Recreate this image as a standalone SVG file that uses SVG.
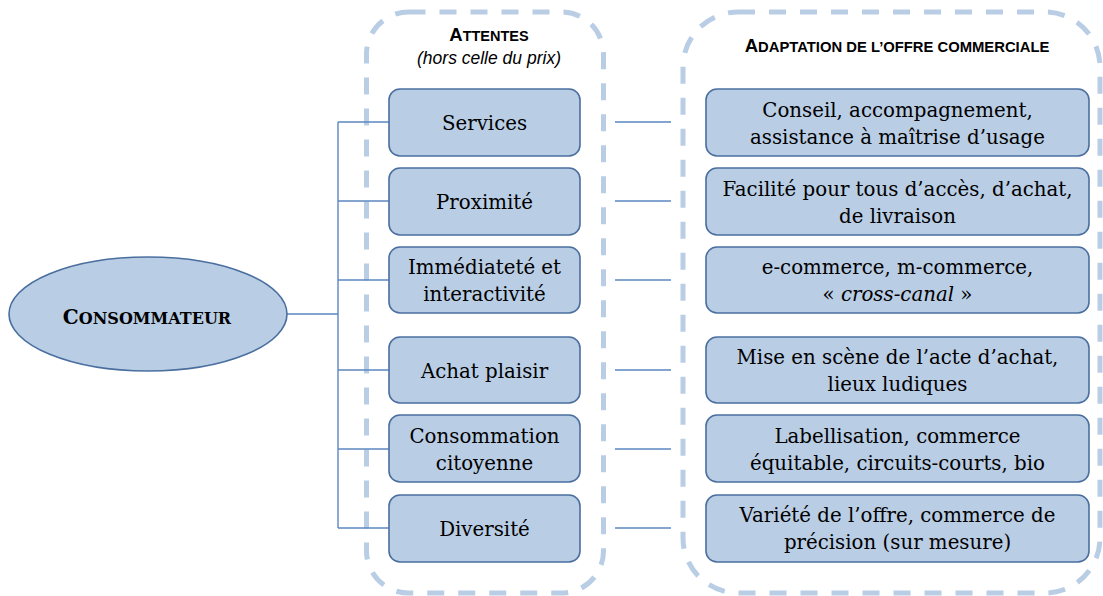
<svg xmlns="http://www.w3.org/2000/svg" width="1103" height="596" viewBox="0 0 1103 596">
<style>
.cont{fill:none;stroke:#b9cde5;stroke-width:5;stroke-dasharray:17 14}
.box{fill:#b9cde5;stroke:#4a6f9f;stroke-width:1.6}
.bt{font-family:"DejaVu Serif",serif;font-size:19.8px;fill:#000;text-anchor:middle}
.conn{stroke:#5b87c0;stroke-width:1.4;fill:none}
.ttl{font-family:"Liberation Sans",Arial,sans-serif;font-weight:bold;fill:#000;text-anchor:middle}
</style>
<rect width="1103" height="596" fill="#fff"/>
<g id="containers">
<rect class="cont" x="366.5" y="12" width="237" height="581" rx="42"/>
<rect class="cont" x="683" y="12" width="417" height="581" rx="55"/>
</g>
<g id="titles">
<text class="ttl" x="489" y="41"><tspan font-size="18.5">A</tspan><tspan font-size="14.5">TTENTES</tspan></text>
<text x="489" y="64" font-family="'Liberation Sans',Arial,sans-serif" font-style="italic" font-size="17.5" text-anchor="middle">(hors celle du prix)</text>
<text class="ttl" x="897" y="52"><tspan font-size="18.5">A</tspan><tspan font-size="14.8">DAPTATION DE L’OFFRE COMMERCIALE</tspan></text>
</g>
<g id="connectors">
<line class="conn" x1="287" y1="314" x2="338" y2="314" stroke-width="2.6"/>
<line class="conn" x1="338" y1="122" x2="338" y2="528"/>
<line class="conn" x1="338" y1="122" x2="389" y2="122"/>
<line class="conn" x1="338" y1="201" x2="389" y2="201"/>
<line class="conn" x1="338" y1="280" x2="389" y2="280"/>
<line class="conn" x1="338" y1="370" x2="389" y2="370"/>
<line class="conn" x1="338" y1="449" x2="389" y2="449"/>
<line class="conn" x1="338" y1="528" x2="389" y2="528"/>
<line class="conn" x1="615" y1="122" x2="671" y2="122"/>
<line class="conn" x1="615" y1="201" x2="671" y2="201"/>
<line class="conn" x1="615" y1="280" x2="671" y2="280"/>
<line class="conn" x1="615" y1="370" x2="671" y2="370"/>
<line class="conn" x1="615" y1="449" x2="671" y2="449"/>
<line class="conn" x1="615" y1="528" x2="671" y2="528"/>
</g>
<g id="consommateur">
<ellipse cx="148" cy="314" rx="139" ry="57" fill="#b9cde5" stroke="#4a6f9f" stroke-width="1.6"/>
<text x="147" y="324" font-family="'DejaVu Serif',serif" font-weight="bold" text-anchor="middle"><tspan font-size="20">C</tspan><tspan font-size="16">ONSOMMATEUR</tspan></text>
</g>
<g id="services">
<rect class="box" x="389" y="89" width="191" height="67" rx="11"/>
<text class="bt" x="484.5" y="130">Services</text>
</g>
<g id="proximite">
<rect class="box" x="389" y="168" width="191" height="67" rx="11"/>
<text class="bt" x="484.5" y="208.5">Proximité</text>
</g>
<g id="immediatete">
<rect class="box" x="389" y="247" width="191" height="66" rx="11"/>
<text class="bt" x="484.5" y="274">Immédiateté et</text>
<text class="bt" x="484.5" y="301">interactivité</text>
</g>
<g id="achat">
<rect class="box" x="389" y="337" width="191" height="66" rx="11"/>
<text class="bt" x="484.5" y="377.5">Achat plaisir</text>
</g>
<g id="consommation">
<rect class="box" x="389" y="415" width="191" height="67" rx="11"/>
<text class="bt" x="484.5" y="443">Consommation</text>
<text class="bt" x="484.5" y="470">citoyenne</text>
</g>
<g id="diversite">
<rect class="box" x="389" y="495" width="191" height="67" rx="11"/>
<text class="bt" x="484.5" y="535.5">Diversité</text>
</g>
<g id="conseil">
<rect class="box" x="706" y="89" width="383" height="67" rx="11"/>
<text class="bt" x="897.5" y="117">Conseil, accompagnement,</text>
<text class="bt" x="897.5" y="144">assistance à maîtrise d’usage</text>
</g>
<g id="facilite">
<rect class="box" x="706" y="168" width="383" height="67" rx="11"/>
<text class="bt" x="897.5" y="196">Facilité pour tous d’accès, d’achat,</text>
<text class="bt" x="897.5" y="223">de livraison</text>
</g>
<g id="ecommerce">
<rect class="box" x="706" y="247" width="383" height="66" rx="11"/>
<text class="bt" x="897.5" y="274">e-commerce, m-commerce,</text>
<text class="bt" x="897.5" y="301">« <tspan font-style="italic">cross-canal</tspan> »</text>
</g>
<g id="mise">
<rect class="box" x="706" y="337" width="383" height="66" rx="11"/>
<text class="bt" x="897.5" y="364">Mise en scène de l’acte d’achat,</text>
<text class="bt" x="897.5" y="391">lieux ludiques</text>
</g>
<g id="labellisation">
<rect class="box" x="706" y="415" width="383" height="67" rx="11"/>
<text class="bt" x="897.5" y="443">Labellisation, commerce</text>
<text class="bt" x="897.5" y="470">équitable, circuits-courts, bio</text>
</g>
<g id="variete">
<rect class="box" x="706" y="495" width="383" height="67" rx="11"/>
<text class="bt" x="897.5" y="522">Variété de l’offre, commerce de</text>
<text class="bt" x="897.5" y="549">précision (sur mesure)</text>
</g>
</svg>
